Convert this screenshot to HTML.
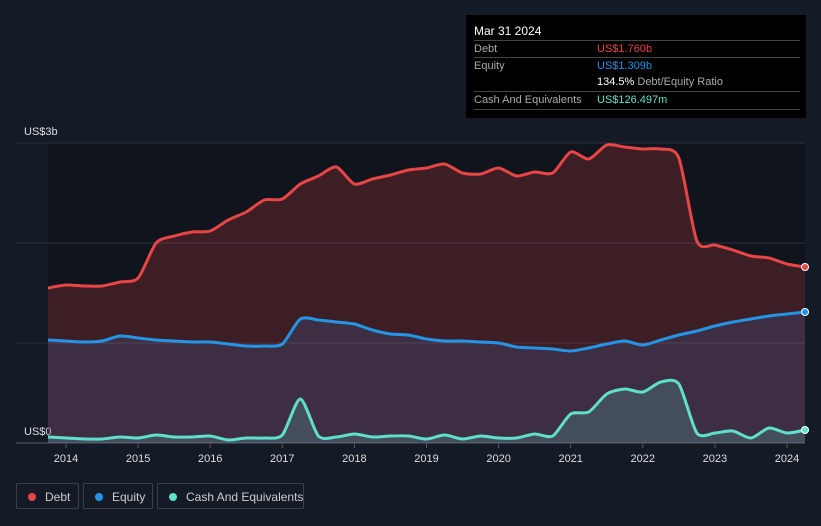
<!DOCTYPE html>
<html><head><meta charset="utf-8"><style>
body{margin:0;background:#151b26;font-family:"Liberation Sans",sans-serif;}
#wrap{position:relative;width:821px;height:526px;overflow:hidden;background:#151b26}
.tt{position:absolute;left:466px;top:15px;width:340px;height:103px;background:#000;color:#fff;font-size:11px}
.row{position:absolute;left:8px;width:326px;border-top:1px solid #444;height:17px;line-height:17px}
.lab{color:#aaa}
.leg{position:absolute;top:483px;height:26px;border:1px solid #3a3f4a;border-radius:2px;color:#ccc;font-size:12px;line-height:26px;box-sizing:border-box;white-space:nowrap}
.dot{display:inline-block;width:8px;height:8px;border-radius:50%;margin:0 9px 0 11px;vertical-align:0px}
</style></head><body>
<div id="wrap">
<svg id="chart" width="821" height="526" style="position:absolute;left:0;top:0"></svg>
<div class="tt">
 <div style="position:absolute;left:8px;top:9px;font-size:12px">Mar 31 2024</div>
 <div class="row" style="top:25px"><span class="lab">Debt</span><span style="position:absolute;left:123px;color:#e84545">US$1.760b</span></div>
 <div class="row" style="top:42px"><span class="lab">Equity</span><span style="position:absolute;left:123px;color:#2394e6">US$1.309b</span></div>
 <div class="row" style="top:59px;border-top:none"><span style="position:absolute;left:123px"><b style="font-weight:normal;color:#fff">134.5%</b> <span class="lab">Debt/Equity Ratio</span></span></div>
 <div class="row" style="top:76px"><span class="lab">Cash And Equivalents</span><span style="position:absolute;left:123px;color:#5ee0cc">US$126.497m</span></div>
 <div class="row" style="top:94px;height:0"></div>
</div>
<div class="leg" style="left:16px;width:63px"><span class="dot" style="background:#e84545"></span>Debt</div>
<div class="leg" style="left:83px;width:70px"><span class="dot" style="background:#2394e6"></span>Equity</div>
<div class="leg" style="left:157px;width:147px"><span class="dot" style="background:#5ee0cc"></span>Cash And Equivalents</div>
</div>
<script>
const startYear = 2013.75, step = 0.25;
const debt = [1.55,1.58,1.57,1.57,1.61,1.65,2.0,2.07,2.11,2.12,2.23,2.31,2.43,2.44,2.59,2.67,2.76,2.59,2.64,2.68,2.73,2.75,2.79,2.70,2.69,2.75,2.67,2.71,2.70,2.91,2.84,2.98,2.96,2.94,2.94,2.85,2.02,1.98,1.93,1.87,1.85,1.79,1.76];
const equity = [1.03,1.02,1.01,1.02,1.07,1.05,1.03,1.02,1.01,1.01,0.99,0.97,0.97,0.99,1.24,1.23,1.21,1.19,1.13,1.09,1.08,1.04,1.02,1.02,1.01,1.0,0.96,0.95,0.94,0.92,0.95,0.99,1.02,0.98,1.03,1.08,1.12,1.17,1.21,1.24,1.27,1.29,1.31];
const cash = [0.06,0.05,0.04,0.04,0.06,0.05,0.08,0.06,0.06,0.07,0.03,0.05,0.05,0.08,0.44,0.07,0.06,0.09,0.06,0.07,0.07,0.04,0.08,0.04,0.07,0.05,0.05,0.09,0.07,0.29,0.31,0.49,0.54,0.51,0.61,0.59,0.10,0.10,0.12,0.05,0.15,0.10,0.13];
const xTicks = [2014,2015,2016,2017,2018,2019,2020,2021,2022,2023,2024];
const yTicks = [0,1,2,3];
const yLabels = {0:"US$0",3:"US$3b"};

const X = y => 66 + (y - 2014) * 72.1;
const Y = v => 443 - v * 100;
const svg = document.getElementById('chart');
const NS = 'http://www.w3.org/2000/svg';
function mk(t, a){const e=document.createElementNS(NS,t);for(const k in a)e.setAttribute(k,a[k]);svg.appendChild(e);return e;}
function pts(arr){return arr.map((v,i)=>[X(startYear+i*step),Y(v)]);}
function path(p){let d=`M${p[0][0]},${p[0][1]}`;for(let i=0;i<p.length-1;i++){const p0=p[i-1]||p[i],p1=p[i],p2=p[i+1],p3=p[i+2]||p2;const t=8;d+=` C${p1[0]+(p2[0]-p0[0])/t},${p1[1]+(p2[1]-p0[1])/t} ${p2[0]-(p3[0]-p1[0])/t},${p2[1]-(p3[1]-p1[1])/t} ${p2[0]},${p2[1]}`;}return d;}

const bg=mk('rect',{x:X(startYear),y:143,width:805-X(startYear),height:300,fill:'#0f141d'});


yTicks.forEach(t=>{const g=mk('line',{x1:16,x2:805,y1:Y(t),y2:Y(t),stroke:t===0?'#555a63':'#2c323d','stroke-width':1});


if(yLabels[t]){const l=mk('text',{x:24,y:Y(t)-8,fill:'#ddd','font-size':11,'font-family':'Liberation Sans'});l.textContent=yLabels[t];

}});
xTicks.forEach(t=>{const tk=mk('line',{x1:X(t),x2:X(t),y1:443,y2:448,stroke:'#555a63'});


const l=mk('text',{x:X(t),y:462,fill:'#ddd','font-size':11,'text-anchor':'middle','font-family':'Liberation Sans'});l.textContent=t;

});

const series=[[debt,'#e84545','rgba(232,69,69,0.22)','debt'],[equity,'#2394e6','rgba(60,110,190,0.2)','equity'],[cash,'#5ee0cc','rgba(94,224,204,0.18)','cash']];
series.forEach(([arr,c,f,n])=>{const p=pts(arr);const d=path(p);
const a=mk('path',{d:d+` L${p[p.length-1][0]},443 L${p[0][0]},443 Z`,fill:f});

});
series.forEach(([arr,c,f,n])=>{const p=pts(arr);
const l=mk('path',{d:path(p),fill:'none',stroke:c,'stroke-width':3});


const e=p[p.length-1];const dt=mk('circle',{cx:e[0],cy:e[1],r:3.5,fill:c,stroke:'#fff','stroke-width':1});

});
</script>
</body></html>
